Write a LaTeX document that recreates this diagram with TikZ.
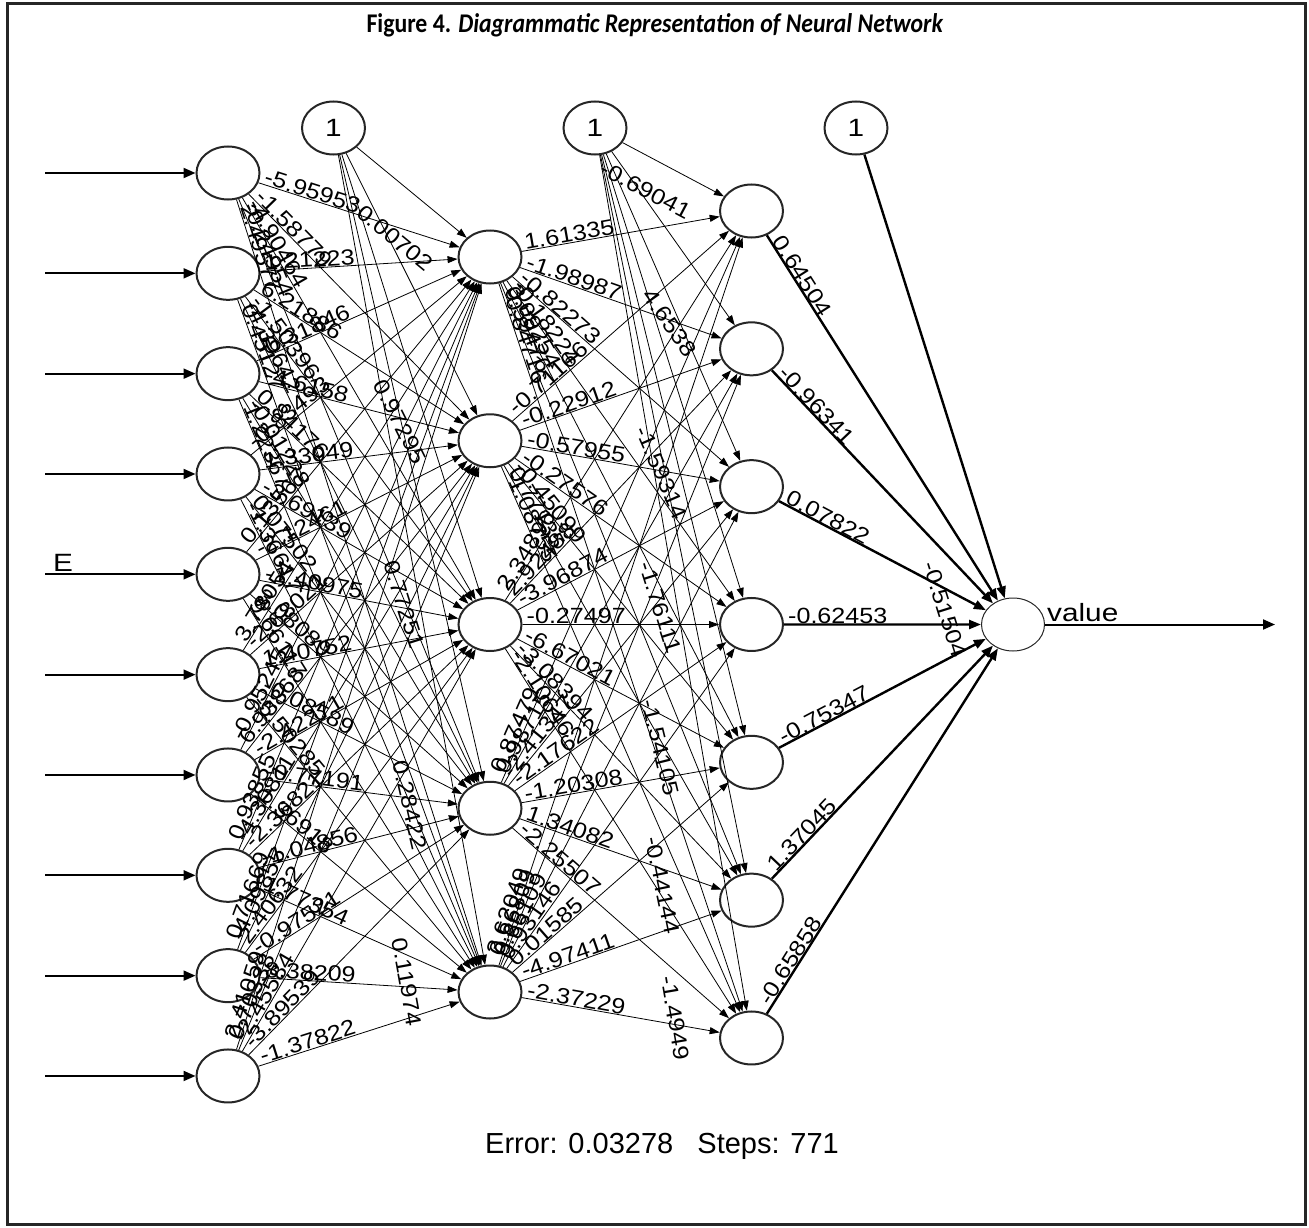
\documentclass[tikz,border=0pt]{standalone}
\usepackage{fontspec}
\setmainfont{Liberation Sans}
\newfontfamily\labfont[FakeStretch=1.14]{Liberation Sans}
\newfontfamily\ndlabfont[FakeStretch=1.19]{Liberation Sans}
\newfontfamily\ttlfont[FakeStretch=0.88]{Carlito}
\newcommand{\wlfont}{\labfont\fontsize{22pt}{22pt}\selectfont}
\newcommand{\ndfont}{\ndlabfont\fontsize{25pt}{25pt}\selectfont}
\usetikzlibrary{shapes.geometric,arrows.meta,calc}
\begin{document}
\begin{tikzpicture}[x=1pt,y=-1pt,
  neuron/.style={ellipse,draw=black!85,fill=white,line width=2pt,minimum width=63pt,minimum height=53pt,inner sep=0pt,font=\ndfont},
  syn/.style={line width=0.8pt,-{Triangle[length=10pt,width=7pt]}},
  outsyn/.style={line width=2.4pt,-{Triangle[length=12pt,width=9pt]}},
  insyn/.style={line width=2pt,-{Triangle[length=12pt,width=10pt]}},
  wlab/.style={font=\wlfont,inner sep=0.5pt,anchor=south west},
  blab/.style={font=\wlfont,inner sep=0.5pt,anchor=center},
]
\useasboundingbox (0,0) rectangle (1309,1228);
\draw[line width=3pt,black!85] (7,4) rectangle (1305,1224);
\node[anchor=base] (title) at (655,33) {\ttlfont\fontsize{27pt}{27pt}\selectfont\textbf{Figure 4.} \textbf{\textit{Diagrammatic Representation of Neural Network}}};
% nodes
\foreach \i in {1,...,10} \node[neuron] (in\i) at (228,{173+100.33*(\i-1)}) {};
\foreach \j in {1,...,5} \node[neuron] (ha\j) at (490,{257+183.75*(\j-1)}) {};
\foreach \k in {1,...,7} \node[neuron] (hb\k) at (751.5,{211+137.83*(\k-1)}) {};
\node[neuron,line width=1pt] (out) at (1013,624.5) {};
\node[neuron] (b1) at (333.5,128) {1};
\node[neuron] (b2) at (595,128) {1};
\node[neuron] (b3) at (856,128) {1};
% input arrows
\foreach \i in {1,...,10} {
  \coordinate (s\i) at (45,{173+100.33*(\i-1)});
  \draw[insyn] (s\i) -- (in\i);
}
\node[anchor=base west,font=\ndfont,inner sep=0pt] (elab) at (53,571) {E};
\coordinate (oe) at (1275,624.5);
\draw[insyn] (out) -- (oe);
\node[anchor=base west,font=\ndfont,inner sep=0pt] (vlab) at (1047,621) {value};
% input -> hidden 1
\foreach \i/\j/\w in {
 1/1/-5.95953, 1/2/-1.58779, 1/3/-4.90464, 1/4/-0.24954, 1/5/2.49577,
 2/1/1.21223, 2/2/6.21886, 2/3/-1.50396, 2/4/-4.39642, 2/5/0.45127,
 3/1/-0.31846, 3/2/-4.6158, 3/3/0.84176, 3/4/-0.01228, 3/5/1.22367,
 4/1/-0.83493, 4/2/1.33049, 4/3/-3.69139, 4/4/0.07502, 4/5/-1.36617,
 5/1/0.13567, 5/2/-2.12461, 5/3/-1.40975, 5/4/3.08089, 5/5/9.66117,
 6/1/3.78054, 6/2/-2.68021, 6/3/1.40752, 6/4/-0.08589, 6/5/-5.50285,
 7/1/-0.95245, 7/2/6.93868, 7/3/-2.42271, 7/4/-0.77191, 7/5/1.36918,
 8/1/0.93855, 8/2/-4.30811, 8/3/-2.36821, 8/4/-1.04856, 8/5/1.77354,
 9/1/0.71669, 9/2/-4.09855, 9/3/2.40632, 9/4/-0.97521, 9/5/8.38209,
 10/1/2.41059, 10/2/0.70338, 10/3/-2.45584, 10/4/-3.89539, 10/5/-1.37822} {
  \draw[syn] (in\i) -- (ha\j);
  \path let \p1=($(ha\j)-(in\i)$) in node[wlab,rotate={atan2(\y1,\x1)}] at ($(in\i)!36pt!(ha\j)$) {\w};
}
% bias 1 -> hidden 1
\foreach \j/\w/\dx/\dy in {1/0.00702/-95/-19, 2/0.97295/-90/-19, 3/0.77251/-86/-20, 4/0.28422/-80/-3, 5/0.11974/-83/-10} {
  \draw[syn] (b1) -- (ha\j);
  \path let \p1=($(ha\j)-(b1)$) in node[blab,rotate={atan2(\y1,\x1)}] at ($(ha\j)+(\dx,\dy)$) {\w};
}
% hidden 1 -> hidden 2
\foreach \i/\j/\w in {
 1/1/1.61335, 1/2/-1.98987, 1/3/-0.82273, 1/4/-0.18224, 1/5/3.09254, 1/6/0.59476, 1/7/-0.84716,
 2/1/-0.71166, 2/2/-0.22912, 2/3/-0.57955, 2/4/-0.27576, 2/5/-0.45099, 2/6/0.77135, 2/7/-1.08755,
 3/1/2.34896, 3/2/2.92488, 3/3/-3.96874, 3/4/-0.27497, 3/5/-6.67021, 3/6/-3.08394, 3/7/-2.10646,
 4/1/0.87479, 4/2/0.98715, 4/3/-2.41347, 4/4/-2.17622, 4/5/-1.20308, 4/6/1.34082, 4/7/-2.25507,
 5/1/3.62049, 5/2/0.56809, 5/3/0.66109, 5/4/0.93146, 5/5/0.01585, 5/6/-4.97411, 5/7/-2.37229} {
  \draw[syn] (ha\i) -- (hb\j);
  \path let \p1=($(hb\j)-(ha\i)$) in node[wlab,rotate={atan2(\y1,\x1)}] at ($(ha\i)!36pt!(hb\j)$) {\w};
}
% bias 2 -> hidden 2
\foreach \j/\w/\dx/\dy in {1/-0.69041/-106/-21, 2/4.6538/-82/-26, 3/-1.59314/-90/-14, 4/-1.76111/-91/-17, 5/-1.54105/-91/-15, 6/-0.44144/-89/-15, 7/-1.4949/-76/-20} {
  \draw[syn] (b2) -- (hb\j);
  \path let \p1=($(hb\j)-(b2)$) in node[blab,rotate={atan2(\y1,\x1)}] at ($(hb\j)+(\dx,\dy)$) {\w};
}
% hidden 2 -> output
\foreach \j/\w in {1/0.64504, 2/-0.96341, 3/0.07822, 4/-0.62453, 5/-0.75347, 6/1.37045, 7/-0.65858} {
  \draw[outsyn] (hb\j) -- (out);
  \path let \p1=($(out)-(hb\j)$) in node[wlab,rotate={atan2(\y1,\x1)}] at ($(hb\j)!36pt!(out)$) {\w};
}
% bias 3 -> output
\draw[outsyn] (b3) -- (out);
\path let \p1=($(out)-(b3)$) in node[blab,rotate={atan2(\y1,\x1)}] (b3lab) at ($(out)+(-68,-15)$) {-0.51504};
\node[anchor=base,font=\fontsize{29pt}{29pt}\selectfont,inner sep=0pt] (err) at (662,1153) {Error: 0.03278\ \ \ Steps: 771};
\end{tikzpicture}
\end{document}
